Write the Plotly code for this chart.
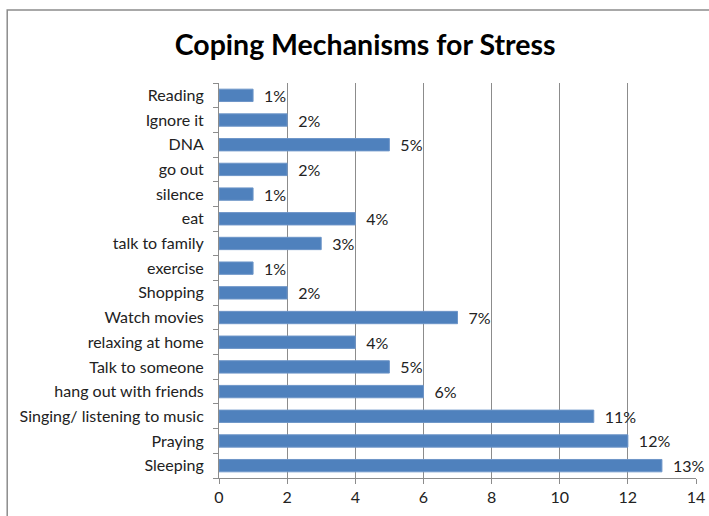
import plotly.graph_objects as go

categories = ["Sleeping", "Praying", "Singing/ listening to music", "hang out with friends",
              "Talk to someone", "relaxing at home", "Watch movies", "Shopping", "exercise",
              "talk to family", "eat", "silence", "go out", "DNA", "Ignore it", "Reading"]
values = [13, 12, 11, 6, 5, 4, 7, 2, 1, 3, 4, 1, 2, 5, 2, 1]
labels = [f"\u2002{v}%" for v in values]
x_ticks = [0, 2, 4, 6, 8, 10, 12, 14]

FONT = "Lato, Open Sans, sans-serif"

fig = go.Figure(go.Bar(
    y=categories, x=values, orientation="h",
    marker=dict(color="#4F81BD", line=dict(color="#6D95C8", width=1)),
    text=labels, textposition="outside", cliponaxis=False, constraintext="none",
    textfont=dict(family=FONT, size=16, color="#222"),
))

fig.update_layout(
    width=709, height=516,
    margin=dict(l=219, r=13, t=83, b=38, autoexpand=False),
    paper_bgcolor="white", plot_bgcolor="white",
    bargap=0.5,
    showlegend=False,
    title=dict(text="<b>Coping Mechanisms for Stress</b>", x=0.515, xanchor="center",
               y=0.913, yanchor="middle",
               font=dict(family=FONT, size=28.5, color="#000")),
    xaxis=dict(range=[0, 14], tickvals=x_ticks, showgrid=True, gridcolor="#8C8C8C",
               gridwidth=1, showline=True, linecolor="#8C8C8C", ticks="outside",
               ticklen=5, tickcolor="#8C8C8C", zeroline=False, automargin=False,
               tickfont=dict(family=FONT, size=16, color="#222")),
    yaxis=dict(categoryorder="array", categoryarray=categories, showgrid=False,
               showline=True, linecolor="#8C8C8C", ticks="outside", ticklen=5,
               tickcolor="#8C8C8C", tickson="boundaries", ticklabelstandoff=11,
               automargin=False,
               tickfont=dict(family=FONT, size=16, color="#222")),
    shapes=[dict(type="rect", xref="paper", yref="paper", x0=-0.444, x1=1.04,
                 y0=-0.11, y1=1.185, line=dict(color="#8C8C8C", width=1.5))],
)

fig.write_html("out.html", config={"displayModeBar": False},
               post_script="document.body.style.margin='0';document.body.style.overflow='hidden';")
